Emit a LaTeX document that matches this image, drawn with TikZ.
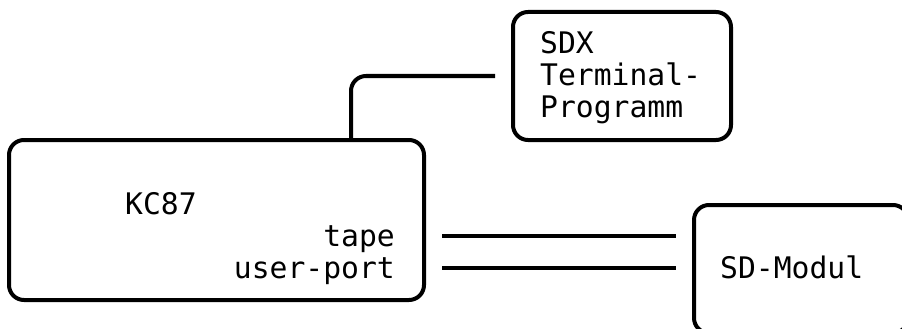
\documentclass[tikz,border=0pt]{standalone}
\usepackage{fontspec}
\setmonofont{DejaVu Sans Mono}
\begin{document}
\begin{tikzpicture}[x=1pt,y=-1pt,
  box/.style={draw,line width=4pt,rounded corners=15pt,inner sep=0pt},
  lbl/.style={font=\fontsize{29.7}{32}\selectfont\ttfamily,inner sep=0pt},
  wire/.style={line width=4pt}]
\clip (0,0) rectangle (902,329);
\path[use as bounding box] (0,0) rectangle (902,329);
% boxes
\node[box,minimum width=415pt,minimum height=160pt] (kc) at (216.5,220) {};
\node[box,minimum width=218pt,minimum height=128pt] (sdx) at (622,76) {};
\node[box,minimum width=214pt,minimum height=128pt] (sd) at (801,269) {};
% texts
\node[lbl,anchor=base west] (kctxt) at (125,214) {KC87};
\node[lbl,anchor=base east] (tape) at (395,246) {tape};
\node[lbl,anchor=base east] (uport) at (395,278) {user-port};
\node[lbl,anchor=base west] (sdx1) at (540,54) {SDX};
\node[lbl,anchor=base west] (sdx2) at (540,85) {Terminal-};
\node[lbl,anchor=base west] (sdx3) at (540,117) {Programm};
\node[lbl,anchor=base west] (sdtxt) at (720,278) {SD-Modul};
% connector endpoints
\coordinate (kctop) at (351,140);
\coordinate (sdxin) at (495,76);
\coordinate (tapeA) at (442,236);
\coordinate (tapeB) at (676,236);
\coordinate (userA) at (442,268);
\coordinate (userB) at (676,268);
\draw[wire,rounded corners=15pt] (kctop) |- (sdxin);
\draw[wire] (tapeA) -- (tapeB);
\draw[wire] (userA) -- (userB);
\end{tikzpicture}
\end{document}
